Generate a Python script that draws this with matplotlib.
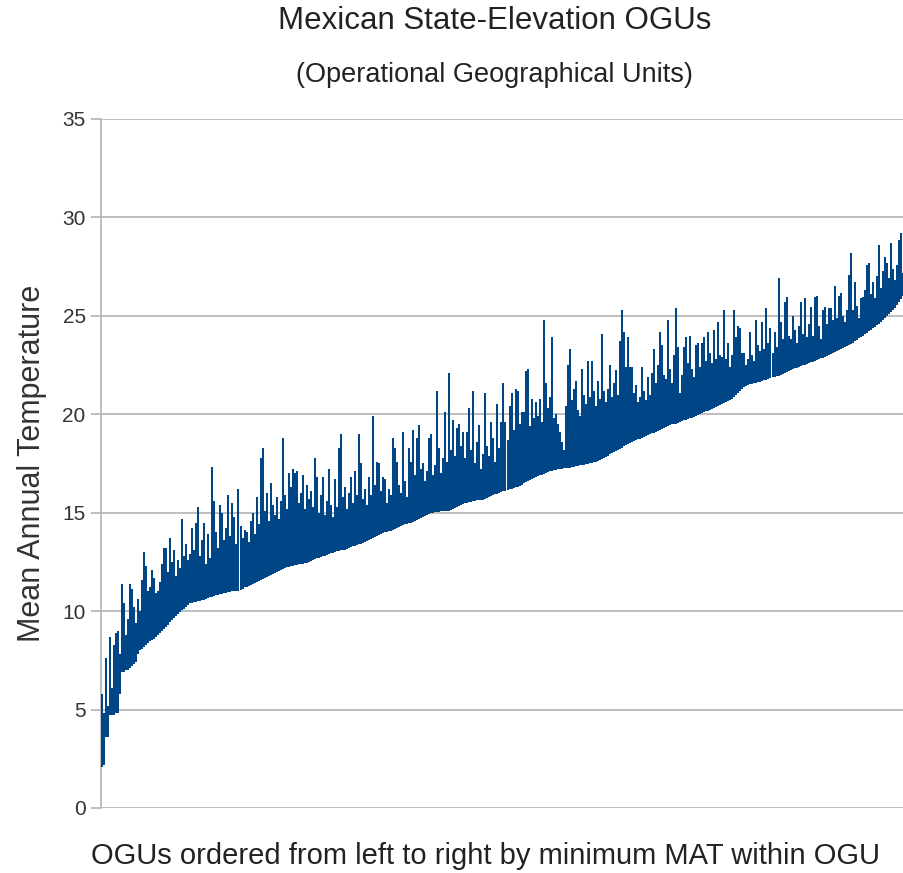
import numpy as np
import matplotlib
matplotlib.use("Agg")
import matplotlib.pyplot as plt

# Minimum and maximum mean annual temperature per OGU, sorted by minimum
mat_min = [
    2.1, 2.2, 3.6, 3.6, 4.7, 4.7, 4.7, 4.8, 4.8, 5.8, 6.9, 6.9, 7.0, 7.0, 7.1, 7.2, 7.3, 7.4, 7.8, 8.0,
    8.1, 8.2, 8.3, 8.4, 8.5, 8.55, 8.6, 8.7, 8.8, 8.9, 9.0, 9.1, 9.2, 9.3, 9.45, 9.55, 9.65, 9.75, 9.85, 9.95,
    10.05, 10.1, 10.2, 10.3, 10.4, 10.42, 10.45, 10.48, 10.5, 10.52, 10.55, 10.58, 10.6, 10.65, 10.7, 10.73, 10.76, 10.8, 10.82, 10.85,
    10.88, 10.9, 10.92, 10.95, 10.97, 11.0, 11.0, 11.0, 11.0, 11.05, 11.1, 11.2, 11.25, 11.3, 11.35, 11.4, 11.45, 11.5, 11.55, 11.6,
    11.65, 11.7, 11.75, 11.8, 11.85, 11.9, 11.95, 12.0, 12.05, 12.1, 12.15, 12.2, 12.22, 12.25, 12.27, 12.3, 12.32, 12.35, 12.37, 12.38,
    12.4, 12.42, 12.45, 12.5, 12.55, 12.6, 12.65, 12.7, 12.72, 12.75, 12.78, 12.8, 12.85, 12.9, 12.93, 12.96, 13.0, 13.03, 13.06, 13.08,
    13.1, 13.12, 13.15, 13.2, 13.25, 13.3, 13.33, 13.36, 13.4, 13.4, 13.45, 13.5, 13.55, 13.6, 13.65, 13.7, 13.75, 13.8, 13.85, 13.9,
    13.95, 14.0, 14.02, 14.05, 14.08, 14.1, 14.15, 14.2, 14.25, 14.3, 14.35, 14.4, 14.43, 14.46, 14.5, 14.55, 14.6, 14.65, 14.7, 14.75,
    14.8, 14.85, 14.9, 14.95, 15.0, 15.0, 15.02, 15.04, 15.06, 15.07, 15.08, 15.09, 15.1, 15.1, 15.15, 15.2, 15.25, 15.3, 15.35, 15.4,
    15.45, 15.5, 15.5, 15.52, 15.55, 15.57, 15.6, 15.62, 15.63, 15.64, 15.65, 15.7, 15.75, 15.8, 15.85, 15.9, 15.93, 15.96, 16.0, 16.05,
    16.1, 16.12, 16.15, 16.2, 16.22, 16.25, 16.28, 16.3, 16.35, 16.4, 16.5, 16.55, 16.6, 16.65, 16.7, 16.75, 16.8, 16.85, 16.9, 16.93,
    16.97, 17.0, 17.05, 17.1, 17.12, 17.15, 17.17, 17.2, 17.22, 17.24, 17.26, 17.27, 17.28, 17.29, 17.3, 17.32, 17.35, 17.38, 17.4, 17.42,
    17.44, 17.46, 17.48, 17.5, 17.53, 17.56, 17.6, 17.65, 17.7, 17.75, 17.8, 17.85, 17.9, 17.97, 18.03, 18.1, 18.15, 18.2, 18.25, 18.3,
    18.4, 18.45, 18.5, 18.55, 18.6, 18.65, 18.7, 18.72, 18.75, 18.8, 18.85, 18.9, 18.95, 19.0, 19.03, 19.06, 19.1, 19.15, 19.2, 19.25,
    19.3, 19.35, 19.4, 19.45, 19.48, 19.5, 19.53, 19.57, 19.6, 19.65, 19.7, 19.73, 19.77, 19.8, 19.83, 19.86, 19.9, 19.95, 20.0, 20.05,
    20.1, 20.15, 20.18, 20.2, 20.25, 20.3, 20.35, 20.4, 20.45, 20.5, 20.55, 20.6, 20.65, 20.7, 20.8, 20.9, 21.0, 21.1, 21.2, 21.3,
    21.4, 21.45, 21.5, 21.52, 21.55, 21.58, 21.6, 21.63, 21.66, 21.7, 21.72, 21.75, 21.8, 21.85, 21.88, 21.9, 21.93, 21.96, 22.0, 22.05,
    22.1, 22.15, 22.2, 22.25, 22.3, 22.33, 22.36, 22.4, 22.45, 22.48, 22.5, 22.55, 22.6, 22.65, 22.68, 22.72, 22.76, 22.8, 22.84, 22.88,
    22.92, 22.96, 23.0, 23.05, 23.1, 23.15, 23.2, 23.25, 23.3, 23.35, 23.4, 23.45, 23.5, 23.55, 23.62, 23.7, 23.78, 23.85, 23.92, 24.0,
    24.08, 24.15, 24.22, 24.3, 24.38, 24.45, 24.52, 24.6, 24.7, 24.8, 24.9, 25.0, 25.1, 25.2, 25.3, 25.4, 25.55, 25.7, 25.85, 26.0,
]

mat_max = [
    5.8, 4.8, 7.6, 5.2, 8.7, 6.1, 8.3, 8.9, 9.0, 7.8, 11.4, 10.4, 8.8, 9.6, 11.4, 11.1, 10.2, 9.4, 10.6, 10.0,
    11.6, 13.0, 12.3, 11.0, 11.2, 12.1, 11.7, 10.9, 11.0, 11.5, 12.4, 13.2, 13.2, 12.0, 13.7, 12.5, 13.1, 11.8, 12.6, 12.2,
    14.7, 12.8, 13.4, 12.6, 12.9, 14.2, 13.1, 14.5, 15.3, 12.8, 13.6, 14.5, 12.4, 13.9, 12.7, 17.3, 15.6, 14.0, 13.2, 15.4,
    15.0, 13.6, 14.2, 15.9, 13.8, 15.5, 14.8, 13.4, 16.2, 14.3, 13.7, 14.1, 14.0, 13.5, 14.6, 15.0, 13.9, 15.8, 14.4, 17.8,
    18.3, 15.1, 16.0, 14.6, 16.5, 15.4, 14.9, 15.8, 14.7, 15.6, 18.8, 15.9, 15.2, 17.0, 16.3, 17.2, 17.0, 17.1, 15.5, 16.0,
    16.9, 15.2, 16.4, 15.7, 16.1, 15.3, 17.8, 16.8, 15.0, 15.9, 16.8, 14.9, 15.6, 17.2, 15.4, 14.8, 16.7, 15.3, 18.3, 19.0,
    15.8, 16.3, 15.2, 16.0, 16.8, 15.5, 17.1, 15.9, 19.0, 17.5, 15.7, 16.2, 15.4, 16.8, 15.9, 19.9, 16.4, 17.6, 17.5, 16.1,
    16.8, 16.7, 15.5, 16.2, 15.9, 18.8, 18.3, 17.6, 16.4, 16.0, 19.1, 16.6, 15.8, 18.3, 17.6, 19.2, 16.9, 18.8, 19.45, 17.2,
    17.5, 16.6, 17.1, 18.8, 19.0, 16.9, 17.4, 21.2, 18.3, 17.0, 17.8, 20.1, 17.6, 22.1, 18.2, 19.7, 17.9, 19.3, 19.5, 18.4,
    19.1, 17.8, 19.1, 20.3, 18.2, 21.2, 17.5, 18.6, 19.45, 17.2, 18.0, 21.1, 18.4, 17.9, 19.6, 18.8, 17.6, 20.5, 18.3, 19.6,
    21.6, 19.6, 18.7, 20.4, 21.1, 19.2, 21.3, 21.2, 19.5, 20.1, 20.1, 22.2, 22.3, 19.4, 20.8, 19.8, 20.6, 19.9, 20.8, 19.6,
    24.8, 21.6, 20.3, 20.9, 23.9, 19.8, 20.0, 19.5, 19.1, 18.6, 18.2, 20.4, 22.5, 23.3, 20.7, 21.3, 21.7, 20.2, 19.9, 22.3,
    21.0, 20.5, 22.7, 20.9, 22.7, 21.2, 20.4, 21.7, 20.8, 24.1, 21.2, 20.6, 21.3, 22.5, 20.9, 21.6, 22.25, 21.0, 23.7, 25.3,
    24.2, 22.4, 23.9, 22.4, 22.4, 21.1, 21.5, 20.6, 20.9, 22.4, 21.2, 20.7, 21.9, 21.0, 22.1, 23.3, 21.6, 22.5, 24.2, 23.5,
    22.0, 21.8, 24.8, 22.3, 21.6, 23.0, 25.4, 23.4, 21.1, 22.0, 23.4, 23.9, 22.6, 24.0, 22.3, 21.9, 23.5, 23.6, 22.4, 23.6,
    23.9, 22.7, 24.2, 23.1, 22.6, 24.3, 22.8, 24.7, 23.0, 22.9, 25.3, 22.8, 23.6, 22.4, 23.0, 25.3, 23.9, 24.5, 24.4, 23.1,
    23.1, 22.5, 22.8, 24.2, 23.0, 22.7, 24.8, 23.5, 23.2, 24.7, 23.3, 25.4, 23.6, 24.4, 23.1, 24.2, 23.4, 26.9, 24.7, 23.8,
    25.7, 25.95, 24.0, 23.8, 25.0, 24.3, 23.6, 24.5, 25.7, 24.1, 25.9, 23.9, 24.6, 25.45, 24.0, 25.95, 26.0, 24.5, 23.8, 25.3,
    25.45, 24.6, 25.4, 25.4, 24.8, 26.5, 24.9, 26.0, 26.15, 25.0, 24.7, 25.3, 27.1, 28.2, 25.3, 26.7, 25.5, 24.9, 25.9, 25.95,
    26.3, 27.6, 27.7, 26.1, 26.7, 25.9, 27.0, 28.6, 26.4, 27.3, 28.0, 27.7, 26.9, 28.7, 27.4, 26.8, 27.6, 28.85, 29.2, 27.2,
]

y_ticks = [0, 5, 10, 15, 20, 25, 30, 35]

plt.rcParams['font.family'] = ['Liberation Sans', 'DejaVu Sans']

fig = plt.figure(figsize=(9.04, 8.73), dpi=100)
ax = fig.add_axes([0.1117, 0.0745, 0.8883, 0.7892])

x = np.arange(len(mat_min))
ax.vlines(x, mat_min, mat_max, color='#004586', linewidth=1.45, zorder=3)

ax.set_xlim(-0.5, len(mat_min) - 0.5)
ax.set_ylim(0, 35)
ax.set_yticks(y_ticks)
ax.set_xticks([])
ax.yaxis.grid(True, color='#b3b3b3', linewidth=1.2)
ax.set_axisbelow(True)

for side in ['top', 'right', 'bottom']:
    ax.spines[side].set_visible(False)
ax.spines['left'].set_color('#b3b3b3')
ax.spines['left'].set_linewidth(1.2)
ax.tick_params(axis='y', length=7, width=1.2, color='#b3b3b3',
               labelsize=15, labelcolor='#333333', pad=4)

ax.set_ylabel('Mean Annual Temperature', fontsize=22, color='#333333', labelpad=11)
ax.set_xlabel('OGUs ordered from left to right by minimum MAT within OGU',
              fontsize=21, color='#222222')
ax.xaxis.set_label_coords(0.479, -0.05)

fig.text(0.547, 0.976, 'Mexican State-Elevation OGUs', ha='center', va='center',
         fontsize=22.5, color='#222222')
fig.text(0.547, 0.914, '(Operational Geographical Units)', ha='center', va='center',
         fontsize=19.5, color='#222222')

fig.savefig('out.png', dpi=100)
